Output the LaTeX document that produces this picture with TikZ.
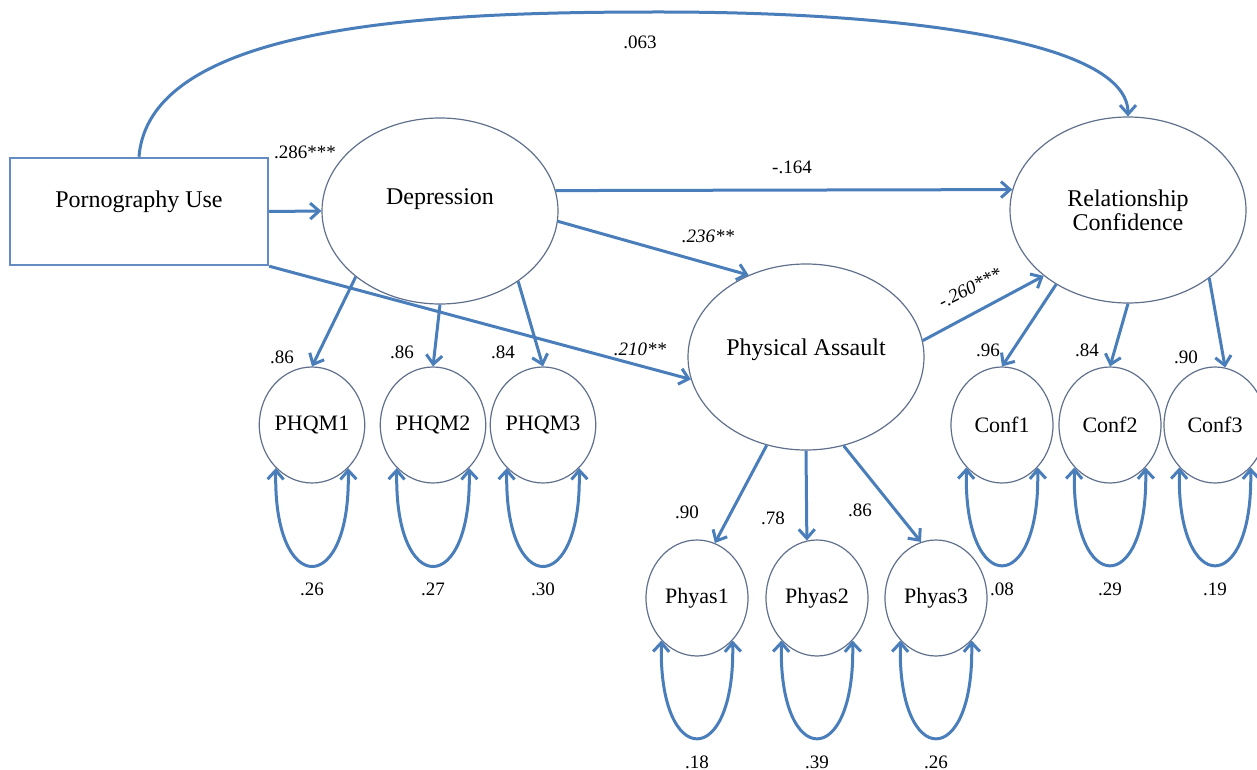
\documentclass[tikz,border=0pt]{standalone}
\usepackage{fontspec}
\setmainfont{Liberation Serif}
\usetikzlibrary{arrows.meta,shapes.geometric}
\definecolor{azul}{RGB}{74,126,187}
\definecolor{contorno}{RGB}{96,112,140}
\definecolor{caixa}{RGB}{100,140,195}

\begin{document}
\begin{tikzpicture}[x=0.5pt, y=-0.5pt,
    seta/.style={draw=azul, line width=1.5pt, -{Straight Barb[length=4.5pt,width=8pt]}},
    laco/.style={draw=azul, line width=1.5pt, {Straight Barb[length=4.5pt,width=8pt]}-{Straight Barb[length=4.5pt,width=8pt]}},
    latente/.style={ellipse, draw=contorno, line width=0.6pt, minimum width=118pt, minimum height=93pt, inner sep=0pt, font=\fontsize{12}{14}\selectfont},
    item/.style={ellipse, draw=contorno, line width=0.6pt, minimum width=51pt, minimum height=58pt, inner sep=0pt, font=\fontsize{11}{13}\selectfont},
    coef/.style={inner sep=1pt, font=\fontsize{9.5}{11}\selectfont},
    coefit/.style={coef, font=\fontsize{9.5}{11}\selectfont\itshape}]

    \clip (0,0) rectangle (1257,770);

    % Variavel observada
    \node[draw=caixa, line width=1.2pt, minimum width=129pt, minimum height=53.5pt, font=\fontsize{12}{14}\selectfont, text height=9pt, text depth=12.5pt] (U) at (139,211.5) {Pornography Use};

    % Variaveis latentes
    \node[latente, text height=9pt, text depth=15pt] (D) at (440,211) {Depression};
    \node[latente, text height=9pt, text depth=11pt] (A) at (806,357) {Physical Assault};
    \node[latente, align=center] (R) at (1128,210) {Relationship\\[-2pt]Confidence};

    % Indicadores
    \node[item] (q1) at (312,425) {PHQM1};
    \node[item] (q2) at (433,425) {PHQM2};
    \node[item] (q3) at (543,425) {PHQM3};
    \node[item] (f1) at (697,598) {Phyas1};
    \node[item] (f2) at (817,598) {Phyas2};
    \node[item] (f3) at (936,598) {Phyas3};
    \node[item] (c1) at (1002,425) {Conf1};
    \node[item] (c2) at (1110,425) {Conf2};
    \node[item] (c3) at (1215,425) {Conf3};

    % Caminhos estruturais
    \draw[seta] (U.east) -- (D.west);
    \draw[seta] (U.north) .. controls (150,20) and (450,12) .. (660,12) .. controls (900,12) and (1128,40) .. (R.north);
    \draw[seta] (D.10) -- (R.170);
    \draw[seta] (D.355) -- (A.125);
    \draw[seta] (U.south east) -- (A.191);
    \draw[seta] (A.8) -- (R.218);

    % Cargas fatoriais
    \draw[seta] (D.218) -- (q1.north);
    \draw[seta] (D.270) -- (q2.north);
    \draw[seta] (D.318) -- (q3.north);
    \draw[seta] (A.246) -- (f1.72);
    \draw[seta] (A.270) -- (f2.100);
    \draw[seta] (A.293) -- (f3.105);
    \draw[seta] (R.226) -- (c1.north);
    \draw[seta] (R.270) -- (c2.north);
    \draw[seta] (R.320) -- (c3.80);

    % Erros (lacos)
    \foreach \n/\v in {q1/.26, q2/.27, q3/.30, f1/.18, f2/.39, f3/.26, c1/.08, c2/.29, c3/.19}
        \draw[laco] (\n.230) .. controls +(-3,130) and +(3,130) .. (\n.310)
            node[coef, pos=.5, below=7pt] (v\n) {\v};

    % Coeficientes
    \foreach \t/\x/\y [count=\i] in {.286***/305/152, .063/640/42, -.164/792/167,
        .86/282/357, .86/402/352, .84/503/352, .90/687/512, .78/773/518, .86/860/510,
        .96/988/350, .84/1087/350, .90/1186/357}
        \node[coef] (k\i) at (\x,\y) {\t};
    \node[coefit] (k13) at (708,236) {.236**};
    \node[coefit] (k14) at (640,349) {.210**};
    \node[coefit, rotate=27] (k15) at (970,288) {-.260***};

\end{tikzpicture}
\end{document}
